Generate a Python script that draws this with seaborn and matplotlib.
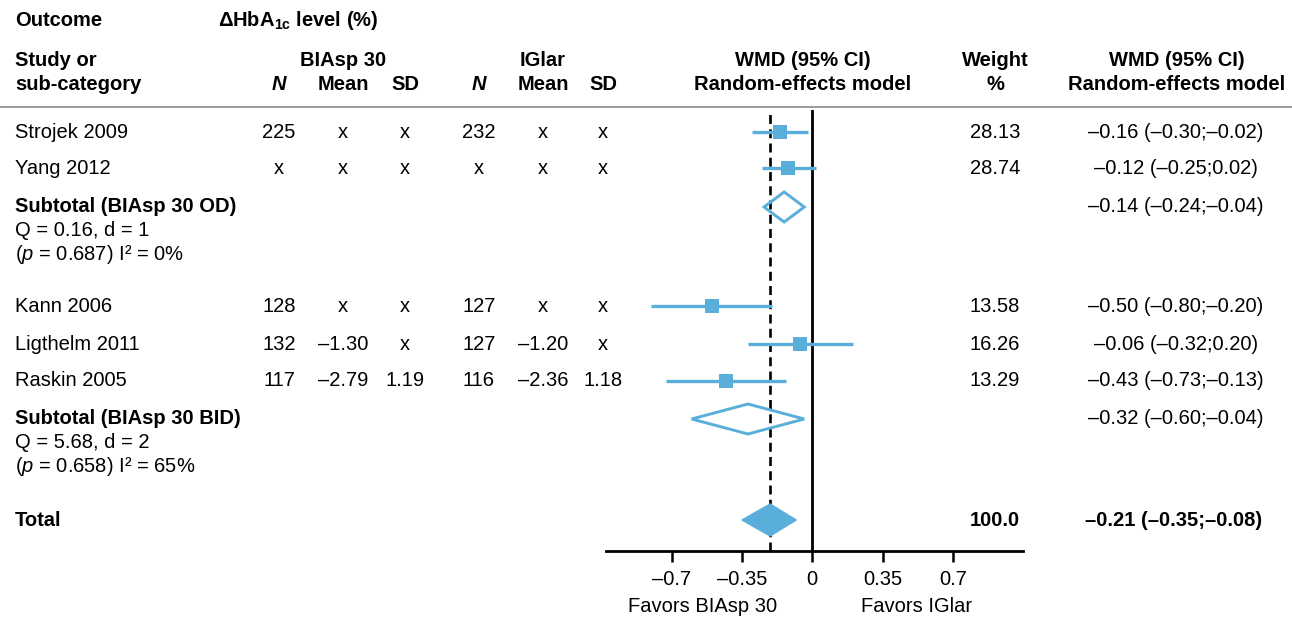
import matplotlib
matplotlib.use("Agg")
import matplotlib.pyplot as plt
import pandas as pd
import seaborn as sns

# ---- data ----
studies = ["Strojek 2009", "Yang 2012", "Kann 2006", "Ligthelm 2011", "Raskin 2005"]
n_biasp = ["225", "x", "128", "132", "117"]
mean_biasp = ["x", "x", "x", "\u20131.30", "\u20132.79"]
sd_biasp = ["x", "x", "x", "x", "1.19"]
n_iglar = ["232", "x", "127", "127", "116"]
mean_iglar = ["x", "x", "x", "\u20131.20", "\u20132.36"]
sd_iglar = ["x", "x", "x", "x", "1.18"]
wmd = [-0.16, -0.12, -0.50, -0.06, -0.43]
ci_low = [-0.30, -0.25, -0.80, -0.32, -0.73]
ci_high = [-0.02, 0.02, -0.20, 0.20, -0.13]
weights = [28.13, 28.74, 13.58, 16.26, 13.29]

subtotals = ["Subtotal (BIAsp 30 OD)", "Subtotal (BIAsp 30 BID)"]
sub_wmd = [-0.14, -0.32]
sub_low = [-0.24, -0.60]
sub_high = [-0.04, -0.04]
sub_q = ["0.16", "5.68"]
sub_d = ["1", "2"]
sub_p = ["0.687", "0.658"]
sub_i2 = ["0", "65"]

total_wmd, total_low, total_high = -0.21, -0.35, -0.08
total_weight = "100.0"

ticks = [-0.7, -0.35, 0, 0.35, 0.7]
tick_labels = ["\u20130.7", "\u20130.35", "0", "0.35", "0.7"]

# ---- layout (pixel rows, top = 0) ----
W, H = 1292, 617
study_y = [132, 168, 306, 344, 381]
sub_y = [207, 419]
total_y = 520
blue = "#5aafda"
fs = 14.5


def fmt(v):
    return f"{v:.2f}".replace("-", "\u2013")


def ci_text(w, lo, hi):
    return f"{fmt(w)} ({fmt(lo)};{fmt(hi)})"


sns.set_theme(style="white")
plt.rcParams["font.family"] = ["Liberation Sans", "DejaVu Sans"]
plt.rcParams["mathtext.fontset"] = "custom"
plt.rcParams["mathtext.rm"] = "Liberation Sans"
plt.rcParams["mathtext.it"] = "Liberation Sans:italic"
plt.rcParams["mathtext.bf"] = "Liberation Sans:bold"

fig = plt.figure(figsize=(W / 100, H / 100), dpi=100)

# table axes in pixel coordinates
tab = fig.add_axes([0, 0, 1, 1])
tab.set_xlim(0, W)
tab.set_ylim(H, 0)
tab.axis("off")


def txt(x, y, s, ha="center", bold=False, **kw):
    tab.text(x, y, s, ha=ha, va="center", fontsize=fs,
             fontweight="bold" if bold else "normal", color="black", **kw)


# header
txt(15, 20, "Outcome", ha="left", bold=True)
txt(218, 20, "\u0394HbA$_{\\mathbf{1c}}$ level (%)", ha="left", bold=True)
txt(15, 60, "Study or", ha="left", bold=True)
txt(15, 84, "sub-category", ha="left", bold=True)
txt(343, 60, "BIAsp 30", bold=True)
txt(543, 60, "IGlar", bold=True)
cols = [279, 343, 405, 479, 543, 603]
for x, lab in zip(cols, ["N", "Mean", "SD", "N", "Mean", "SD"]):
    txt(x, 84, lab, bold=True, fontstyle="italic" if lab == "N" else "normal")
txt(803, 60, "WMD (95% CI)", bold=True)
txt(803, 84, "Random-effects model", bold=True)
txt(995, 60, "Weight", bold=True)
txt(995, 84, "%", bold=True)
txt(1177, 60, "WMD (95% CI)", bold=True)
txt(1177, 84, "Random-effects model", bold=True)
tab.axhline(107, color="#9a9a9a", lw=1.4)

# study rows
for i, y in enumerate(study_y):
    txt(15, y, studies[i], ha="left")
    for x, val in zip(cols, [n_biasp[i], mean_biasp[i], sd_biasp[i],
                             n_iglar[i], mean_iglar[i], sd_iglar[i]]):
        txt(x, y, val)
    txt(995, y, f"{weights[i]:.2f}")
    txt(1176, y, ci_text(wmd[i], ci_low[i], ci_high[i]))

# subtotal rows
for j, y in enumerate(sub_y):
    txt(15, y, subtotals[j], ha="left", bold=True)
    txt(15, y + 24, f"Q = {sub_q[j]}, d = {sub_d[j]}", ha="left")
    txt(15, y + 48, f"($\\mathit{{p}}$ = {sub_p[j]}) I\u00b2 = {sub_i2[j]}%", ha="left")
    txt(1176, y, ci_text(sub_wmd[j], sub_low[j], sub_high[j]))

txt(15, total_y + 1, "Total", ha="left", bold=True)
txt(995, total_y + 1, total_weight, bold=True)
txt(1174, total_y + 1, ci_text(total_wmd, total_low, total_high), bold=True)

txt(703, 607, "Favors BIAsp 30")
txt(917, 607, "Favors IGlar")

# forest axes
ax = fig.add_axes([606 / W, (H - 551) / H, (1023 - 606) / W, (551 - 110) / H])
ax.patch.set_alpha(0)
ax.set_xlim(-1.026, 1.048)
ax.set_ylim(551, 110)

ax.axvline(0, color="black", lw=2.0, zorder=2)
ax.axvline(total_wmd, color="black", lw=1.9, dashes=(3.4, 2.0), zorder=2)

ax.hlines(study_y, ci_low, ci_high, color=blue, lw=2.4, zorder=3)
df = pd.DataFrame({"wmd": wmd, "y": study_y})
sns.scatterplot(data=df, x="wmd", y="y", marker="s", s=100, color=blue,
                linewidth=0, ax=ax, legend=False, zorder=4)

h = 15
for j, y in enumerate(sub_y):
    ax.fill([sub_low[j], sub_wmd[j], sub_high[j], sub_wmd[j]],
            [y, y - h, y, y + h], facecolor="none", edgecolor=blue, lw=2.1, zorder=3)
ax.fill([total_low, total_wmd, total_high, total_wmd],
        [total_y, total_y - 16, total_y, total_y + 16],
        facecolor=blue, edgecolor=blue, lw=1, zorder=4)

for side in ["left", "right", "top"]:
    ax.spines[side].set_visible(False)
ax.spines["bottom"].set_color("black")
ax.spines["bottom"].set_linewidth(2.0)
ax.set_yticks([])
ax.set_xticks(ticks)
ax.set_xticklabels(tick_labels)
ax.tick_params(axis="x", direction="out", length=8, width=1.8,
               labelsize=fs, pad=6, colors="black", bottom=True)
ax.set_xlabel("")
ax.set_ylabel("")
ax.grid(False)

fig.savefig("out.png", dpi=100)
